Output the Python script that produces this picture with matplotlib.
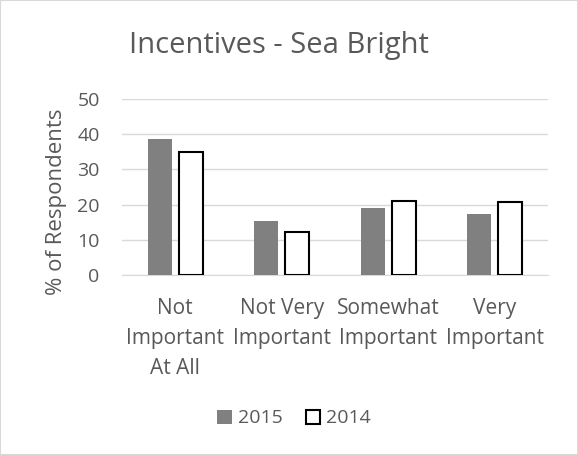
import numpy as np
import matplotlib.pyplot as plt
from matplotlib.patches import Rectangle

categories = ['Not\nImportant\nAt All', 'Not Very\nImportant', 'Somewhat\nImportant', 'Very\nImportant']
vals_2015 = [38.6, 15.3, 18.9, 17.4]
vals_2014 = [35.0, 12.3, 21.0, 20.7]

plt.rcParams['font.family'] = ['Open Sans', 'DejaVu Sans']
txt = '#595959'

fig = plt.figure(figsize=(5.78, 4.55), dpi=100)
ax = fig.add_axes([0.211, 0.396, 0.737, 0.386])

x = np.arange(len(categories))
w = 0.225
ax.bar(x - 0.145, vals_2015, w, color='#808080', label='2015', zorder=3)
ax.bar(x + 0.145, vals_2014, w, color='white', edgecolor='black', linewidth=1.5, label='2014', zorder=3)

ax.set_xlim(-0.5, 3.5)
ax.set_ylim(0, 50)
ax.set_yticks(range(0, 51, 10))
ax.yaxis.grid(True, color='#d9d9d9', linewidth=1)
ax.set_axisbelow(True)
for s in ['top', 'right', 'left']:
    ax.spines[s].set_visible(False)
ax.spines['bottom'].set_color('#d9d9d9')
ax.tick_params(length=0, colors=txt, labelsize=14)
ax.tick_params(axis='y', pad=16)
ax.tick_params(axis='x', pad=17)
ax.set_xticks(x)
ax.set_xticklabels(categories, fontsize=15, linespacing=1.55)
ax.set_ylabel('% of Respondents', fontsize=16, color=txt)
ax.yaxis.set_label_coords(-0.13, 0.415)
fig.suptitle('Incentives - Sea Bright', fontsize=21, color=txt, x=0.483, y=0.901, va='center')

ax.legend(loc='center', bbox_to_anchor=(0.404, -0.818), ncol=2, frameon=False,
          fontsize=14, labelcolor=txt, handlelength=0.75, handleheight=0.75,
          handletextpad=0.3, columnspacing=1.2)

fig.patches.append(Rectangle((0, 0), 1, 1, transform=fig.transFigure,
                             fill=False, edgecolor='#d9d9d9', linewidth=1.5))

fig.savefig('out.png', dpi=100)
